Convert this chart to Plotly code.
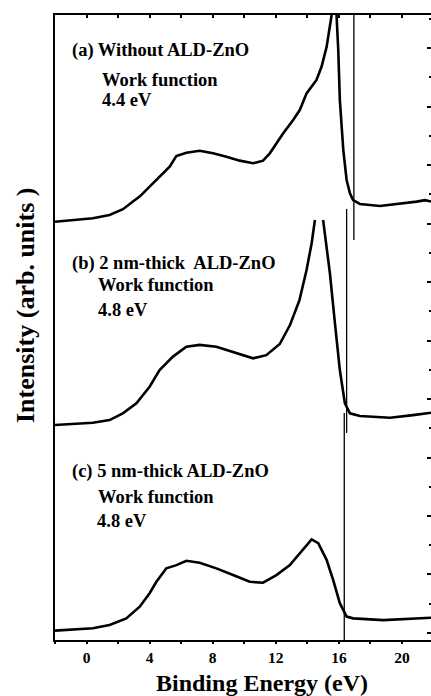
import plotly.graph_objects as go

# Binding energy (eV) and intensity (arb. units, offset stacked)
x_a = [-2.0, -0.65, 0.4, 1.46, 2.31, 2.94, 3.37, 4.0, 4.63, 5.27, 5.69, 6.33, 7.17, 8.02, 8.87, 9.71, 10.56,
       11.19, 11.62, 12.04, 12.46, 13.1, 13.52, 13.95, 14.58, 14.9, 15.22, 15.54,
       15.7, 15.85, 15.96, 16.06, 16.28, 16.49, 16.7, 16.9, 17.33, 18.6, 19.87, 20.93, 21.46, 21.84]
y_a = [14.06, 14.12, 14.18, 14.29, 14.49, 14.75, 14.92, 15.26, 15.60, 15.94, 16.31, 16.42, 16.49, 16.40, 16.28,
       16.15, 16.06, 16.15, 16.40, 16.76, 17.08, 17.54, 17.88, 18.45, 18.91, 19.36, 20.04, 21.13,
       22.5, 21.13, 19.93, 18.22, 16.51, 15.49, 15.03, 14.80, 14.67, 14.60, 14.67, 14.75, 14.80, 14.75]

x_b = [-2.0, 0.4, 1.46, 2.3, 3.16, 4.0, 4.63, 5.48, 6.33, 7.17, 8.23, 9.29, 10.56, 11.4, 12.25, 12.9, 13.5,
       13.95, 14.27, 14.48, None, 15.0, 15.43, 15.75, 16.06, 16.38, 16.7, 17.33, 19.24, 20.7, 21.84]
y_b = [7.11, 7.19, 7.28, 7.51, 7.85, 8.42, 8.99, 9.45, 9.79, 9.85, 9.79, 9.62, 9.39, 9.50, 9.88, 10.53, 11.38,
       12.41, 13.32, 14.12, None, 14.12, 12.30, 10.59, 8.99, 7.85, 7.51, 7.42, 7.36, 7.45, 7.53]

x_c = [-2.0, 0.4, 1.46, 2.52, 3.37, 4.0, 4.43, 5.06, 5.7, 6.33, 7.17, 8.23, 9.29, 10.35, 11.19, 12.04, 12.89,
       13.73, 14.27, 14.69, 15.22, 15.64, 16.06, 16.49, 16.9, 18.81, 21.84]
y_c = [0.08, 0.16, 0.27, 0.50, 0.90, 1.36, 1.75, 2.21, 2.32, 2.47, 2.40, 2.21, 1.98, 1.75, 1.72, 1.98, 2.32,
       2.84, 3.20, 3.07, 2.50, 1.81, 1.02, 0.56, 0.50, 0.44, 0.52]

# Work-function cutoff markers (x position, y start, y end)
cut_x = [16.95, 16.49, 16.34]
cut_y0 = [13.44, 6.84, -0.24]
cut_y1 = [21.13, 14.50, 7.52]

labels = [
    ["(a) Without ALD-ZnO", "Work function", "4.4 eV"],
    ["(b) 2 nm-thick  ALD-ZnO", "Work function", "4.8 eV"],
    ["(c) 5 nm-thick ALD-ZnO", "Work function", "4.8 eV"],
]
label_x = [[-1.08, 0.83, 0.83], [-1.08, 0.63, 0.63], [-1.08, 0.63, 0.51]]
label_y = [[19.93, 18.91, 18.22], [12.64, 11.90, 11.04], [5.51, 4.66, 3.83]]

x_ticks = [0, 4, 8, 12, 16, 20]
x_minor = [-2, 2, 6, 10, 14, 18]
x_range = [-2.0, 21.84]
y_range = [-0.24, 21.13]

FONT = "Liberation Serif"

fig = go.Figure()
for xs, ys in [(x_a, y_a), (x_b, y_b), (x_c, y_c)]:
    fig.add_trace(go.Scatter(x=xs, y=ys, mode="lines", connectgaps=False,
                             line=dict(color="black", width=2.6), showlegend=False))
for cx, a, b in zip(cut_x, cut_y0, cut_y1):
    fig.add_trace(go.Scatter(x=[cx, cx], y=[a, b], mode="lines",
                             line=dict(color="black", width=1.3), showlegend=False))

for texts, xs, ys in zip(labels, label_x, label_y):
    for t, ax, ay in zip(texts, xs, ys):
        fig.add_annotation(x=ax, y=ay, xref="x", yref="y", text="<b>" + t + "</b>", showarrow=False,
                           xanchor="left", yanchor="middle",
                           font=dict(family=FONT, size=18.5, color="black"))

# axis titles
fig.add_annotation(x=0.55, y=(640 - 683) / 625, xref="paper", yref="paper", text="<b>Binding Energy (eV)</b>",
                   showarrow=False, xanchor="center", yanchor="middle",
                   font=dict(family=FONT, size=24, color="black"))
fig.add_annotation(x=-30 / 376, y=(640 - 306) / 625, xref="paper", yref="paper",
                   text="<b>Intensity (arb. units )</b>", textangle=-90,
                   showarrow=False, xanchor="center", yanchor="middle",
                   font=dict(family=FONT, size=26, color="black"))

fig.update_layout(
    width=431, height=696,
    margin=dict(l=55, r=0, t=15, b=56),
    paper_bgcolor="white", plot_bgcolor="white",
    font=dict(family=FONT, color="black"),
    xaxis=dict(range=x_range, tickvals=x_ticks, ticktext=["<b>%d</b>" % v for v in x_ticks],
               ticks="outside", ticklen=2, tickwidth=1.5, tickcolor="black",
               minor=dict(tickvals=x_minor, ticks="outside", ticklen=2,
                          tickwidth=1.5, tickcolor="black"),
               showline=True, linewidth=2, linecolor="black", showgrid=False, zeroline=False,
               tickfont=dict(family=FONT, size=15.5, color="black")),
    xaxis2=dict(range=x_range, overlaying="x", side="top", tickvals=x_ticks,
                ticks="inside", ticklen=3, tickwidth=1.5, tickcolor="black",
                minor=dict(tickvals=x_minor, ticks="inside", ticklen=3,
                           tickwidth=1.5, tickcolor="black"),
                showticklabels=False, showline=True, linewidth=2, linecolor="black",
                showgrid=False, zeroline=False),
    yaxis=dict(range=y_range, showline=True, linewidth=2, linecolor="black", ticks="",
               showticklabels=False, showgrid=False, zeroline=False),
    yaxis2=dict(range=y_range, overlaying="y", side="right", tick0=0, dtick=2,
                ticks="inside", ticklen=4, tickwidth=1.5, tickcolor="black",
                minor=dict(tick0=1, dtick=1, ticks="inside", ticklen=2, tickwidth=1.5, tickcolor="black"),
                showticklabels=False, showline=False, showgrid=False, zeroline=False),
)
# dummy trace to activate secondary axes
fig.add_trace(go.Scatter(x=[None], y=[None], xaxis="x2", yaxis="y2", showlegend=False, hoverinfo="skip"))

fig.write_html("out.html")
